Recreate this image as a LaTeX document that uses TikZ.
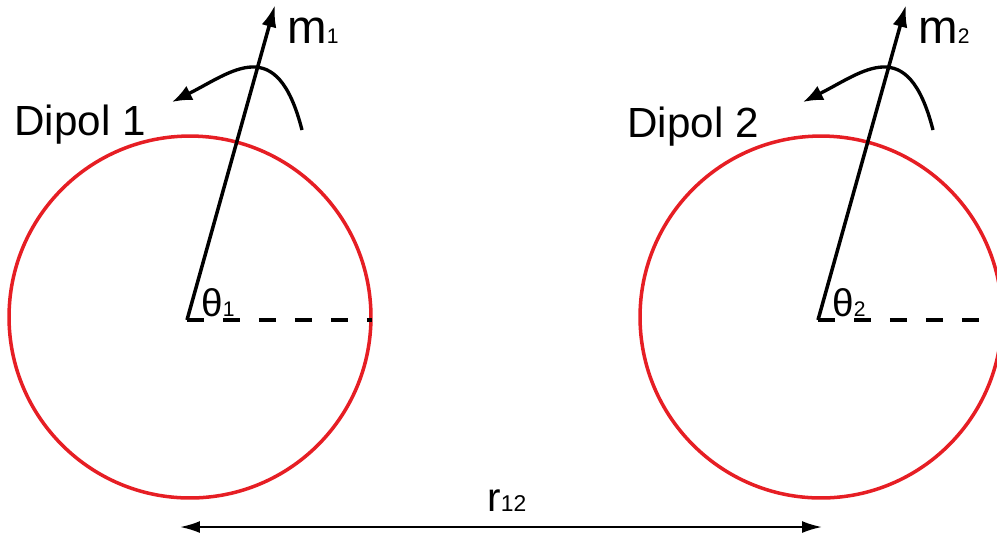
\documentclass[tikz,border=0pt]{standalone}
\usepackage{fontspec}
\setmainfont{Liberation Sans}
\usetikzlibrary{arrows.meta}
\definecolor{ringred}{RGB}{230,30,36}
\tikzset{
  ring/.style={draw=ringred,line width=2pt},
  vec/.style={line width=2pt,-{Latex[length=0.44cm,width=0.3cm]}},
  turn/.style={line width=1.9pt,-{Latex[length=0.4cm,width=0.32cm]}},
  axis/.style={line width=2.1pt,dash pattern=on 0.34cm off 0.38cm},
  sep/.style={line width=1.2pt,{Latex[length=0.4cm,width=0.24cm]}-{Latex[length=0.4cm,width=0.24cm]}},
  lbl/.style={inner sep=0pt,anchor=base west}
}
\begin{document}
\begin{tikzpicture}[x=0.02cm,y=-0.02cm]
    \useasboundingbox (0,0) rectangle (997,539);
    \foreach \i/\dx/\lx/\ly in {1/0/14/135,2/631/-4/137} {
        \begin{scope}[shift={(\dx,0)}]
            \draw [ring] (190,317) circle (3.62cm);
            \coordinate (o\i) at (187,320);
            \coordinate (tip\i) at (275,5);
            \coordinate (rim\i) at (372,320);
            \coordinate (ts\i) at (302,130);
            \coordinate (te\i) at (172,102);
            \draw [axis] (o\i) -- (rim\i);
            \draw [vec] (o\i) -- (tip\i);
            \draw [turn] (ts\i) .. controls (277,32) and (232,72) .. (te\i);
            \node [lbl] (m\i) at (287,43) {\fontsize{27}{27}\selectfont m\fontsize{12}{12}\selectfont\i};
            \node [lbl] (theta\i) at (201,316) {\fontsize{22}{22}\selectfont θ\fontsize{12}{12}\selectfont\i};
            \node [lbl] (dipol\i) at (\lx,\ly) {\fontsize{24}{24}\selectfont Dipol \i};
        \end{scope}
    }
    \coordinate (sepL) at (180,527);
    \coordinate (sepR) at (822,527);
    \draw [sep] (sepL) -- (sepR);
    \node [lbl] (r12) at (487,511) {\fontsize{23}{23}\selectfont r\fontsize{13}{13}\selectfont 12};
\end{tikzpicture}
\end{document}
